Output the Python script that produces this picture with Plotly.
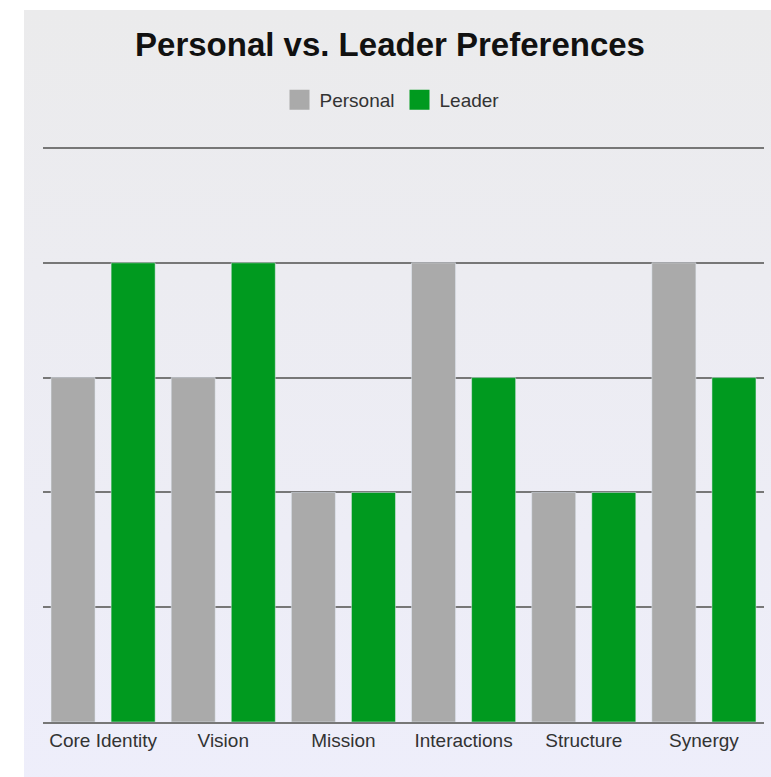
import base64
import plotly.graph_objects as go

categories = ["Core Identity", "Vision", "Mission", "Interactions", "Structure", "Synergy"]
personal = [3, 3, 2, 4, 2, 4]
leader = [4, 4, 2, 3, 2, 3]
series_names = ["Personal", "Leader"]
series_colors = ["#aaaaaa", "#009a1f"]
title_text = "Personal vs. Leader Preferences"

W, H = 771, 777
PLOT_BOTTOM = 722
UNIT = 114.8          # pixels per value unit
MT = 145
ML, MR = 43, 7
MB = H - PLOT_BOTTOM
ymax = (PLOT_BOTTOM - MT) / UNIT

svg = (
    '<svg xmlns="http://www.w3.org/2000/svg" width="100" height="100" preserveAspectRatio="none">'
    '<defs><linearGradient id="g" x1="0" y1="0" x2="0" y2="1">'
    '<stop offset="0" stop-color="#ebebec"/><stop offset="1" stop-color="#eeeefb"/>'
    '</linearGradient></defs><rect width="100" height="100" fill="url(#g)"/></svg>'
)
src = "data:image/svg+xml;base64," + base64.b64encode(svg.encode()).decode()

pw = W - ML - MR
ph = H - MT - MB
bg_x0 = (24 - ML) / pw
bg_y1 = (H - MB - 10) / ph

fig = go.Figure()
for name, vals, col in zip(series_names, [personal, leader], series_colors):
    fig.add_trace(go.Bar(x=categories, y=vals, name=name, marker_color=col,
                         showlegend=False, legendgroup=name))
for name, col in zip(series_names, series_colors):
    fig.add_trace(go.Scatter(x=[None], y=[None], mode="markers", name=name,
                             legendgroup=name,
                             marker=dict(symbol="square", size=16, color=col,
                                         line=dict(color=col, width=4))))

fig.update_layout(
    width=W, height=H,
    margin=dict(l=ML, r=MR, t=MT, b=MB, pad=0),
    paper_bgcolor="white",
    plot_bgcolor="rgba(0,0,0,0)",
    barmode="group", bargap=0, bargroupgap=0.267,
    font=dict(family="Liberation Sans, Arial, sans-serif", color="#333333"),
    title=dict(text=title_text, x=390 / W, xanchor="center", xref="container",
               y=1 - 44 / H, yanchor="middle", yref="container",
               font=dict(size=33, color="#111111", family="Liberation Sans, Arial, sans-serif", weight="bold")),
    legend=dict(orientation="h", x=392 / W, xanchor="center", xref="container",
                y=1 - 100 / H, yanchor="middle", yref="container",
                font=dict(size=19, color="#333333"), bgcolor="rgba(0,0,0,0)",
                itemsizing="trace"),
    images=[dict(source=src, xref="paper", yref="paper", x=bg_x0, y=bg_y1,
                 sizex=1 - bg_x0 + 20 / pw, sizey=bg_y1 + 80 / ph,
                 xanchor="left", yanchor="top", sizing="stretch", layer="below")],
    xaxis=dict(showgrid=False, showline=True, linecolor="#777777", linewidth=2,
               ticks="", tickfont=dict(size=19, color="#333333")),
    yaxis=dict(range=[0, ymax], tickvals=[0, 1, 2, 3, 4, 5], showgrid=True,
               gridcolor="#777777", gridwidth=2,
               zeroline=False, showticklabels=False, ticks=""),
)

fig.write_html("out.html", config={"displayModeBar": False},
               post_script="document.body.style.margin='0px';")
